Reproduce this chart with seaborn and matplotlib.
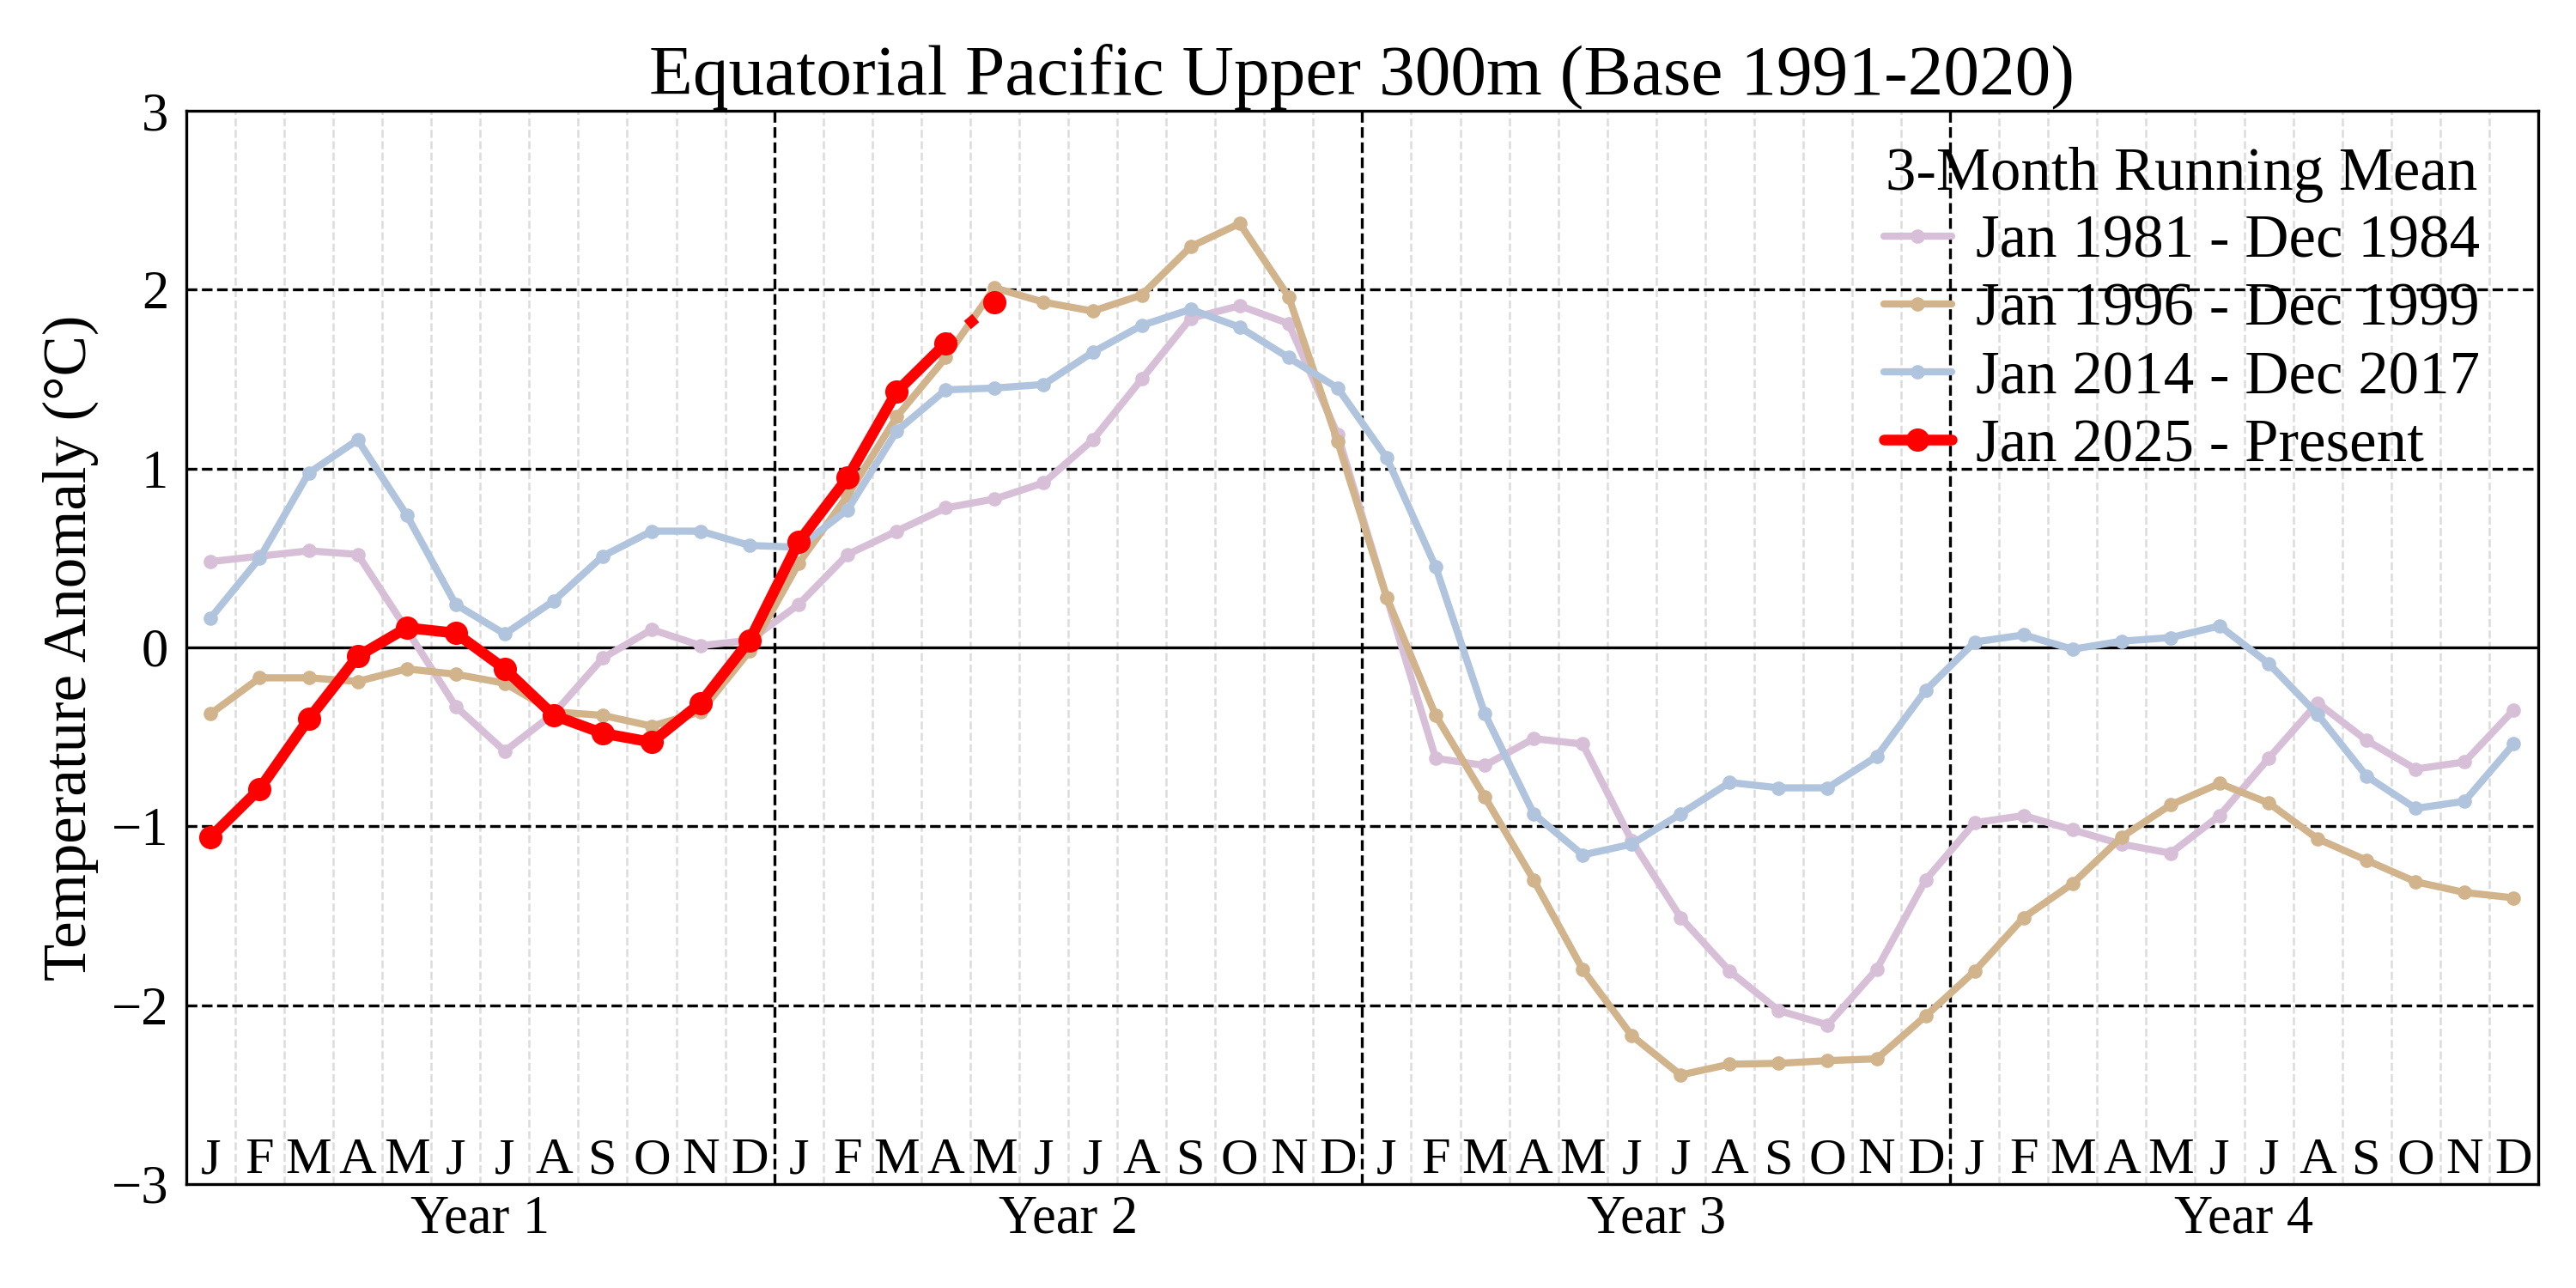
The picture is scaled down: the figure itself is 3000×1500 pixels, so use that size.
import numpy as np
import pandas as pd
import matplotlib
matplotlib.use('Agg')
import matplotlib.pyplot as plt
import seaborn as sns

# --- dados (anomalia em °C, média móvel de 3 meses) ---
month_letters = ['J', 'F', 'M', 'A', 'M', 'J', 'J', 'A', 'S', 'O', 'N', 'D']
year_labels = ['Year 1', 'Year 2', 'Year 3', 'Year 4']

anom_1981 = [0.48, 0.51, 0.54, 0.52, 0.10, -0.33, -0.58, -0.37, -0.06, 0.10, 0.01, 0.04,
             0.24, 0.52, 0.65, 0.78, 0.83, 0.92, 1.16, 1.50, 1.84, 1.91, 1.81, 1.19,
             0.28, -0.62, -0.66, -0.51, -0.54, -1.08, -1.51, -1.81, -2.03, -2.11, -1.80, -1.30,
             -0.98, -0.94, -1.02, -1.10, -1.15, -0.94, -0.62, -0.31, -0.52, -0.68, -0.64, -0.35]
anom_1996 = [-0.37, -0.17, -0.17, -0.19, -0.12, -0.15, -0.20, -0.36, -0.38, -0.44, -0.36, -0.02,
             0.47, 0.85, 1.29, 1.62, 2.01, 1.93, 1.88, 1.97, 2.24, 2.37, 1.96, 1.15,
             0.28, -0.38, -0.835, -1.30, -1.80, -2.17, -2.39, -2.33, -2.325, -2.31, -2.30, -2.06,
             -1.81, -1.51, -1.32, -1.06, -0.88, -0.76, -0.87, -1.07, -1.19, -1.31, -1.37, -1.40]
anom_2014 = [0.165, 0.50, 0.975, 1.16, 0.74, 0.24, 0.075, 0.26, 0.51, 0.65, 0.65, 0.57,
             0.56, 0.77, 1.21, 1.44, 1.45, 1.47, 1.65, 1.80, 1.89, 1.79, 1.62, 1.45,
             1.06, 0.45, -0.37, -0.93, -1.16, -1.10, -0.93, -0.755, -0.785, -0.785, -0.61, -0.24,
             0.03, 0.07, -0.01, 0.035, 0.055, 0.12, -0.09, -0.375, -0.72, -0.90, -0.86, -0.54]
anom_2025 = [-1.06, -0.79, -0.40, -0.05, 0.11, 0.08, -0.12, -0.38, -0.48, -0.53, -0.31, 0.04,
             0.59, 0.95, 1.43, 1.70, 1.93]

series = [
    ('Jan 1981 - Dec 1984', anom_1981, 'thistle'),
    ('Jan 1996 - Dec 1999', anom_1996, 'tan'),
    ('Jan 2014 - Dec 2017', anom_2014, 'lightsteelblue'),
]

sns.set_style('white')
plt.rcParams['font.family'] = ['Liberation Serif', 'DejaVu Serif']
plt.rcParams['axes.unicode_minus'] = True
for k in ['text.color', 'axes.labelcolor', 'xtick.color', 'ytick.color', 'axes.edgecolor']:
    plt.rcParams[k] = 'black'

fig = plt.figure(figsize=(10, 5), dpi=300)
ax = fig.add_axes([0.0723, 0.0807, 0.9130, 0.8333])

# grades
for xv in np.arange(0.5, 47, 1.0):
    if xv in (11.5, 23.5, 35.5):
        ax.axvline(xv, color='black', ls='--', lw=0.8, zorder=1)
    else:
        ax.axvline(xv, color='#dcdcdc', ls='--', lw=0.6, zorder=0)
for yv in [-2, -1, 1, 2]:
    ax.axhline(yv, color='black', ls='--', lw=0.8, zorder=1)
ax.axhline(0, color='black', ls='-', lw=0.8, zorder=1)

# séries históricas
for label, vals, color in series:
    df = pd.DataFrame({'mes': np.arange(len(vals)), 'anom': vals})
    sns.lineplot(data=df, x='mes', y='anom', ax=ax, color=color, lw=2,
                 marker='o', markersize=4, markeredgewidth=0, label=label, zorder=3)

# ano atual (último ponto preliminar, ligado por pontilhado)
df_now = pd.DataFrame({'mes': np.arange(len(anom_2025)), 'anom': anom_2025})
sns.lineplot(data=df_now.iloc[:-1], x='mes', y='anom', ax=ax, color='red', lw=3,
             marker='o', markersize=6.5, markeredgewidth=0, label='Jan 2025 - Present', zorder=4)
sns.lineplot(data=df_now.iloc[-2:], x='mes', y='anom', ax=ax, color='red', lw=3, ls=':',
             marker='o', markersize=6.5, markeredgewidth=0, markevery=[1], zorder=4)

# letras dos meses dentro do eixo
for i in range(48):
    ax.text(i, -2.94, month_letters[i % 12], ha='center', va='baseline', fontsize=14.5, zorder=5)

ax.set_xlim(-0.5, 47.5)
ax.set_ylim(-3, 3)
ax.set_xticks([5.5, 17.5, 29.5, 41.5])
ax.set_xticklabels(year_labels, fontsize=15)
ax.set_yticks(range(-3, 4))
ax.tick_params(axis='x', length=0, pad=3)
ax.tick_params(axis='y', direction='in', length=3, width=0.8, labelsize=15, pad=5)
ax.set_xlabel('')
ax.set_ylabel('Temperature Anomaly (°C)', fontsize=17, labelpad=3.5)
ax.set_title('Equatorial Pacific Upper 300m (Base 1991-2020)', fontsize=20, pad=4.5)
for sp in ax.spines.values():
    sp.set_color('black')
    sp.set_linewidth(0.8)

leg = ax.legend(title='3-Month Running Mean', loc='upper right', bbox_to_anchor=(0.9857, 0.9894),
                frameon=False, fontsize=17, title_fontsize=17, handlelength=1.12,
                handletextpad=0.4, labelspacing=0.2, borderaxespad=0, borderpad=0.4)

fig.savefig('out.png', dpi=300)
